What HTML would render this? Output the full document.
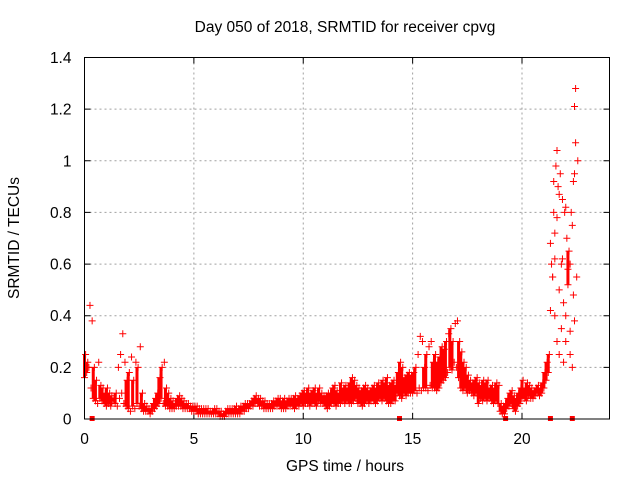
<!DOCTYPE html>
<html><head><meta charset="utf-8"><style>
body{margin:0;background:#fff}
svg{display:block;font-family:"Liberation Sans",Arial,sans-serif}
</style></head><body>
<svg id="chart" width="640" height="480">
<text x="345" y="32" font-size="15.5" text-anchor="middle">Day 050 of 2018, SRMTID for receiver cpvg</text>
<text x="345" y="471" font-size="15.5" text-anchor="middle">GPS time / hours</text>
<text transform="translate(19,238) rotate(-90)" font-size="15.5" text-anchor="middle">SRMTID / TECUs</text>
<g id="grid"></g><g id="ticks"></g><g id="marks"></g>
<rect x="84.5" y="57.5" width="525" height="361.5" fill="none" stroke="#000"/>
</svg>
<script>
const xTicks=[0,5,10,15,20];
const yTicks=[0,0.2,0.4,0.6,0.8,1,1.2,1.4];
const yTickLabels=["0","0.2","0.4","0.6","0.8","1","1.2","1.4"];
const sampleStart=0, sampleStep=0.1;
const lowBand=[.16,.18,.2,.12,.08,.07,.06,.08,.07,.06,
.05,.06,.05,.07,.06,.05,.08,.1,.06,.05,
.04,.03,.05,.04,.06,.05,.04,.03,.03,.03,
.02,.03,.04,.05,.06,.08,.06,.05,.05,.04,
.04,.04,.05,.05,.05,.04,.04,.04,.04,.03,
.03,.03,.02,.02,.02,.02,.02,.02,.02,.02,
.02,.02,.01,.01,.01,.02,.02,.02,.02,.02,
.02,.02,.03,.03,.04,.04,.05,.05,.06,.06,
.05,.05,.04,.04,.04,.04,.04,.05,.05,.05,
.04,.04,.04,.05,.05,.05,.04,.05,.05,.06,
.05,.06,.06,.05,.06,.06,.05,.07,.06,.06,
.05,.04,.05,.06,.06,.05,.06,.06,.07,.06,
.07,.06,.06,.07,.08,.06,.06,.05,.06,.07,
.06,.07,.07,.06,.07,.08,.07,.08,.07,.06,
.06,.07,.07,.1,.09,.08,.1,.09,.1,.1,
.1,.11,.1,.12,.11,.12,.12,.11,.13,.12,
.12,.11,.12,.14,.15,.16,.18,.2,.19,.22,
.2,.16,.12,.11,.12,.1,.11,.1,.09,.1,
.06,.08,.07,.08,.07,.08,.07,.06,.07,.06,
.03,.02,.02,.04,.05,.06,.04,.03,.05,.06,
.08,.08,.07,.09,.08,.08,.09,.1,.09,.1,
.12,.15,.18,.42,.55,.62,.3,.25,.35,.22,
.4,.52,.25,.2,.38,.55];
const highBand=[.25,.22,.44,.38,.2,.15,.22,.13,.12,.1,
.12,.1,.09,.08,.1,.2,.25,.33,.22,.15,
.18,.24,.15,.22,.2,.28,.1,.06,.05,.04,
.04,.06,.08,.1,.16,.2,.22,.12,.1,.08,
.07,.06,.08,.09,.08,.07,.06,.06,.05,.05,
.05,.05,.04,.04,.04,.04,.04,.03,.03,.04,
.04,.03,.03,.02,.03,.04,.04,.04,.04,.05,
.04,.05,.05,.06,.06,.06,.07,.08,.09,.08,
.08,.07,.07,.06,.06,.06,.07,.07,.08,.08,
.07,.08,.07,.08,.08,.08,.09,.08,.09,.1,
.11,.1,.12,.1,.11,.12,.1,.12,.1,.09,
.09,.1,.1,.12,.13,.11,.1,.14,.12,.13,
.12,.14,.16,.15,.13,.12,.11,.12,.13,.12,
.11,.12,.13,.12,.14,.13,.15,.14,.16,.13,
.14,.15,.13,.18,.22,.2,.16,.17,.18,.17,
.18,.2,.25,.32,.3,.2,.25,.28,.3,.22,
.25,.22,.24,.28,.27,.3,.33,.35,.3,.37,
.38,.3,.26,.22,.2,.17,.15,.14,.15,.16,
.14,.13,.15,.14,.15,.12,.13,.12,.14,.13,
.06,.05,.06,.08,.1,.11,.09,.08,.1,.12,
.15,.12,.14,.13,.12,.11,.12,.13,.12,.14,
.18,.22,.25,.6,.8,.98,.9,.95,.85,.8,
.7,.65,.8,.92,1.28,1.0];
const extraHours=[21.3,21.4,21.5,21.6,21.7,21.8,21.9,22.0,22.1,22.2,22.3,22.4,22.4,22.45,22.2,21.5,21.6,21.7,22.0,21.45,21.85,22.35];
const extraValues=[.68,.55,.72,.78,.5,.6,.45,.3,.58,.6,.75,.95,1.21,1.07,.34,.4,1.04,.87,.82,.92,.62,.48];
const gapHours=[0.35,14.4,19.25,21.3,22.3];
const NS="http://www.w3.org/2000/svg";
const X0=84.5,X1=609.5,Y0=419,Y1=57.5;
const xs=h=>X0+(h/24)*(X1-X0);
const ys=v=>Y0-(v/1.4)*(Y0-Y1);
function mk(tag,attrs,parent){const e=document.createElementNS(NS,tag);for(const k in attrs)e.setAttribute(k,attrs[k]);document.getElementById(parent).appendChild(e);return e;}
xTicks.forEach(t=>{
 const x=xs(t);
 if(t>0){const g=mk('line',{x1:x,x2:x,y1:Y1,y2:Y0,stroke:'#a0a0a0','stroke-dasharray':'2,3'},'grid');
 
 }
 const tk=mk('path',{d:`M${x},${Y0}v-6M${x},${Y1}v6`,stroke:'#000'},'ticks');
 
 
 const l=mk('text',{x:x,y:Y0+25,'font-size':15.5,'text-anchor':'middle'},'ticks');l.textContent=t;
 
 
});
yTicks.forEach((t,i)=>{
 const y=ys(t);
 if(t>0&&t<1.4){const g=mk('line',{x1:X0,x2:X1,y1:y,y2:y,stroke:'#a0a0a0','stroke-dasharray':'2,3'},'grid');
 
 }
 const tk=mk('path',{d:`M${X0},${y}h6M${X1},${y}h-6`,stroke:'#000'},'ticks');
 
 
 const l=mk('text',{x:X0-13,y:y+5.5,'font-size':15.5,'text-anchor':'end'},'ticks');l.textContent=yTickLabels[i];
 
 
});
function plus(h,v){
 const x=xs(h),y=ys(v);
 const p=mk('path',{d:`M${x-3.5},${y}h7M${x},${y-3.5}v7`,stroke:'#f00','stroke-width':1},'marks');
 
 
}
lowBand.forEach((v,i)=>{
 const h=sampleStart+i*sampleStep, v2=highBand[i];
 if(v2-v<0.15){const s=mk('line',{x1:xs(h),x2:xs(h),y1:ys(v),y2:ys(v2),stroke:'#f00','stroke-width':3},'marks');
 
 }
 plus(h,v);plus(h+0.05,v2);
});
extraHours.forEach((h,i)=>plus(h,extraValues[i]));
gapHours.forEach(h=>{
 const r=mk('rect',{x:xs(h)-2.5,y:Y0-3,width:5,height:5,fill:'#f00'},'marks');
 
 
});
</script>
</body></html>
